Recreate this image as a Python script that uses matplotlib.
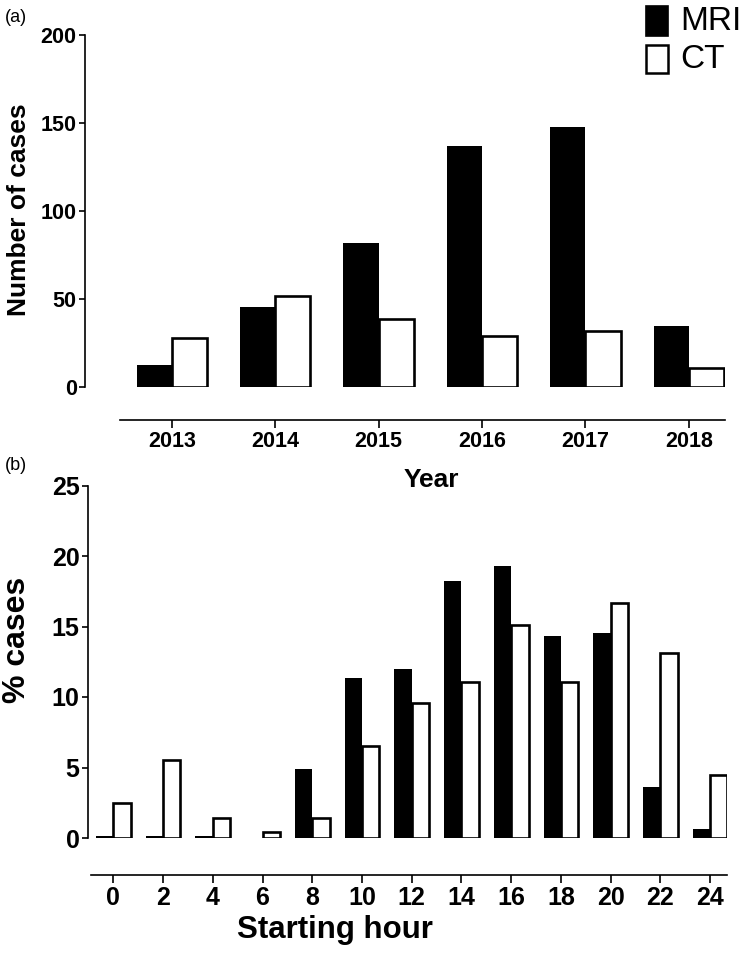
import matplotlib
matplotlib.use("Agg")
import matplotlib.pyplot as plt
from matplotlib.patches import Rectangle
import numpy as np

plt.rcParams['font.family'] = ['Liberation Sans', 'DejaVu Sans']

# Panel (a) data
years = ["2013", "2014", "2015", "2016", "2017", "2018"]
mri_year = [12.5, 45.5, 82, 137, 148, 35]
ct_year = [28, 52, 39, 29, 32, 11]

# Panel (b) data
hours = ["0", "2", "4", "6", "8", "10", "12", "14", "16", "18", "20", "22", "24"]
mri_hour = [0.15, 0.15, 0.15, 0, 4.9, 11.35, 12.0, 18.2, 19.3, 14.35, 14.55, 3.65, 0.65]
ct_hour = [2.45, 5.5, 1.45, 0.45, 1.45, 6.55, 9.55, 11.05, 15.1, 11.05, 16.65, 13.1, 4.5]

series_names = ["MRI", "CT"]

W, H = 742, 960
fig = plt.figure(figsize=(W / 100, H / 100), dpi=100)


def ax_rect(left, right, top, bottom):
    return [left / W, 1 - bottom / H, (right - left) / W, (bottom - top) / H]


def style(ax, outward_px, bounds, tick_fs):
    for s in ['top', 'right']:
        ax.spines[s].set_visible(False)
    ax.spines['left'].set_linewidth(1.2)
    ax.spines['bottom'].set_linewidth(1.2)
    ax.spines['bottom'].set_position(('outward', outward_px * 72 / 100))
    ax.spines['bottom'].set_bounds(*bounds)
    ax.tick_params(axis='both', direction='out', width=1.2, length=4,
                   labelsize=tick_fs, pad=2)
    ax.tick_params(axis='x', length=6, pad=2)
    for lbl in ax.get_xticklabels() + ax.get_yticklabels():
        lbl.set_fontweight('bold')
    ax.patch.set_visible(False)


# ---- Panel (a)
L1, R1, T1, B1 = 85, 725, 35.3, 387.3
ax1 = fig.add_axes(ax_rect(L1, R1, T1, B1))
x1 = np.arange(len(years))
w1 = 0.34
ax1.bar(x1 - w1, mri_year, width=w1, align='edge', color='black', edgecolor='none',
        label=series_names[0])
ax1.bar(x1, ct_year, width=w1, align='edge', color='white', edgecolor='black', linewidth=1.9,
        label=series_names[1])
ax1.set_xlim(-0.84, 5.35)
ax1.set_ylim(0, 200)
ax1.set_yticks([0, 50, 100, 150, 200])
ax1.set_xticks(x1)
ax1.set_xticklabels(years)
style(ax1, 33, (-0.5, 5.35), 15.5)
ax1.set_ylabel("Number of cases", fontsize=19, fontweight='bold', va='center')
ax1.yaxis.set_label_coords((19 - L1) / (R1 - L1), (B1 - 210) / (B1 - T1))
ax1.set_xlabel("Year", fontsize=19, fontweight='bold', va='center')
ax1.xaxis.set_label_coords((431 - L1) / (R1 - L1), (B1 - 480) / (B1 - T1))

# ---- Panel (b)
L2, R2, T2, B2 = 88, 727, 485.5, 838
ax2 = fig.add_axes(ax_rect(L2, R2, T2, B2))
x2 = np.arange(len(hours))
w2 = 0.35
ax2.bar(x2 - w2, mri_hour, width=w2, align='edge', color='black', edgecolor='none')
ax2.bar(x2, ct_hour, width=w2, align='edge', color='white', edgecolor='black', linewidth=1.9)
ax2.set_xlim(-0.51, 12.34)
ax2.set_ylim(0, 25)
ax2.set_yticks([0, 5, 10, 15, 20, 25])
ax2.set_xticks(x2)
ax2.set_xticklabels(hours)
style(ax2, 37, (-0.45, 12.34), 18)
ax2.set_ylabel("% cases", fontsize=23, fontweight='bold', va='center')
ax2.yaxis.set_label_coords((17 - L2) / (R2 - L2), (B2 - 640) / (B2 - T2))
ax2.set_xlabel("Starting hour", fontsize=22.5, fontweight='bold', va='center')
ax2.xaxis.set_label_coords((335 - L2) / (R2 - L2), (B2 - 930) / (B2 - T2))

# Panel labels
fig.text(5 / W, 1 - 17 / H, "(a)", fontsize=13, va='center', ha='left')
fig.text(5 / W, 1 - 466 / H, "(b)", fontsize=13, va='center', ha='left')

# Legend (placed in figure pixel coordinates)
def fig_box(x0, x1_, y0, y1_, **kw):
    r = Rectangle((x0 / W, 1 - y1_ / H), (x1_ - x0) / W, (y1_ - y0) / H,
                  transform=fig.transFigure, **kw)
    fig.add_artist(r)

fig_box(646, 668, 6, 36, facecolor='black', edgecolor='black', linewidth=1.2)
fig_box(646, 668, 45, 73, facecolor='white', edgecolor='black', linewidth=1.8)
fig.text(680 / W, 1 - 22 / H, series_names[0], fontsize=24, va='center', ha='left')
fig.text(680 / W, 1 - 60 / H, series_names[1], fontsize=24, va='center', ha='left')

fig.savefig("out.png", dpi=100)
